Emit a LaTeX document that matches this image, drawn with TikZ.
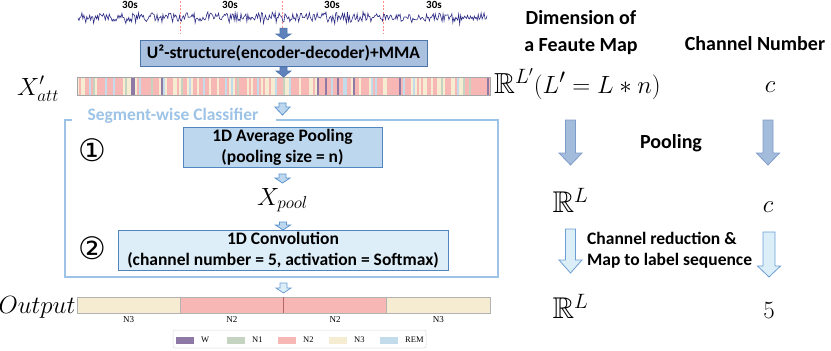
\documentclass[tikz,border=0pt]{standalone}
\usepackage{fontspec}
\usepackage{amssymb}
\usetikzlibrary{calc,positioning}
\newfontfamily\carlito{Carlito}
\newfontfamily\timesf{Liberation Serif}
\newfontfamily\dejavu{DejaVu Sans}
\definecolor{wave}{HTML}{2E2C85}
\definecolor{cW}{HTML}{8E78A6}
\definecolor{cN1}{HTML}{C4D4C1}
\definecolor{cN2}{HTML}{F7B7B4}
\definecolor{cN3}{HTML}{F6ECD2}
\definecolor{cREM}{HTML}{C3DCEC}
\definecolor{ufill}{HTML}{A9C0DF}
\definecolor{uline}{HTML}{4F74AC}
\definecolor{poolfill}{HTML}{BDD8EE}
\definecolor{convfill}{HTML}{DDEEF8}
\definecolor{boxline}{HTML}{5085C0}
\definecolor{frame}{HTML}{9DC3E6}
\definecolor{darkarr}{HTML}{5F82BC}
\definecolor{midarr}{HTML}{A4BCDC}
\definecolor{lightarr}{HTML}{DCEEF8}
\definecolor{arrline}{HTML}{5B93CF}
% stripe colour from a random integer
\newcommand{\stripecol}[1]{\ifcase#1 cW\or cREM\or cREM\or cN1\or cN3\or cN3\or cN3\or cN3\or cN3\or cN3\else cN2\fi}
% block arrow pointing down: start, tip, half shaft, half head, head length
\newcommand{\blockarrow}[6][]{%
  \draw[#1] let \p1=#2, \p2=#3 in
    (\x2-#4pt,\y1) -- (\x2+#4pt,\y1) -- (\x2+#4pt,\y2+#6pt) -- (\x2+#5pt,\y2+#6pt)
    -- (\x2,\y2) -- (\x2-#5pt,\y2+#6pt) -- (\x2-#4pt,\y2+#6pt) -- cycle;}

\begin{document}
\begin{tikzpicture}[x=1pt,y=-1pt,line join=miter,
  bold/.style={font=\carlito\bfseries\fontsize{17.5}{21}\selectfont},
  head/.style={font=\carlito\bfseries\fontsize{20}{27}\selectfont,align=center,inner sep=0pt},
  stepbox/.style={draw=boxline,line width=1pt,outer sep=0pt,inner sep=0pt,align=center,bold},
  mlbl/.style={inner sep=0pt,anchor=base},
  darr/.style={fill=darkarr,draw=uline,line width=0.6pt},
  larr/.style={fill=poolfill,draw=arrline,line width=0.8pt},
  barr/.style={fill=midarr,draw=darkarr!80,line width=0.8pt},
  warr/.style={fill=lightarr,draw=arrline!90,line width=0.8pt},
  seg/.style={draw=gray!60,line width=0.6pt,minimum width=103.25,minimum height=16,inner sep=0pt,outer sep=0pt},
  seglbl/.style={font=\timesf\fontsize{9}{10}\selectfont,inner sep=0pt},
  swatch/.style={minimum width=18,minimum height=7,inner sep=0pt,outer sep=0pt},
  leglbl/.style={font=\timesf\fontsize{8.5}{10}\selectfont,inner sep=0pt},
  secs/.style={font=\carlito\bfseries\fontsize{11}{12}\selectfont,inner sep=0pt}]
\useasboundingbox (0,0) rectangle (831,351);

% input signal
\node[minimum width=409,minimum height=22,inner sep=0pt] (sig) at (282.5,17) {};
\foreach \x in {180,282,383}
  \draw[red!45,dashed,line width=0.5pt,dash pattern=on 2pt off 1.5pt] (\x,1) -- (\x,33);
\pgfmathsetseed{11}
\draw[wave,line width=0.6pt] plot[domain=78:487,samples=420,variable=\t] (\t,{17.5+4.5*rand+6*rand*rand*rand});
\foreach \x/\n in {130/t1,230/t2,332/t3,434/t4}
  \node[secs] (\n) at (\x,5) {30s};

% encoder-decoder
\node[stepbox,fill=ufill,draw=uline,minimum width=287,minimum height=26] (ubox) at (283.5,53) {U²-structure(encoder-decoder)+MMA};
\blockarrow[darr]{(sig.south)}{($(ubox.north)+(0,-1)$)}{3.5}{7.5}{5}

% attention feature map
\begin{scope}
 \clip (77,77) rectangle (490,95);
 \foreach \i in {0,...,206}{
  \pgfmathrandominteger{\k}{0}{22}
  \edef\sc{\stripecol{\k}}
  \fill[fill=\sc] (77+2*\i,77) rectangle (79+2*\i,95);
 }
\end{scope}
\node[draw=gray!70,line width=0.6pt,minimum width=413,minimum height=18,inner sep=0pt,outer sep=0pt] (xatt) at (283.5,86) {};
\blockarrow[darr]{($(ubox.south)+(0,1)$)}{(xatt.north)}{3.5}{7.5}{6}
\node[mlbl,font=\fontsize{26}{28}\selectfont] (xattl) at (38,95) {$X'_{att}$};

% segment-wise classifier
\draw[frame,line width=1.6pt] (72,120) -| (65,277) -| (498,120) -- (276,120);
\node[bold,text=frame,inner sep=0pt] (segt) at (173,116) {Segment-wise Classifier};
\node[stepbox,fill=poolfill,minimum width=199,minimum height=40] (pool) at (282.5,147) {1D Average Pooling\\(pooling size = n)};
\blockarrow[larr]{($(xatt.south)+(0,8)$)}{($(pool.north)+(0,-12)$)}{3.5}{7.5}{8}
\node[mlbl,font=\fontsize{25}{27}\selectfont] (xpool) at (282.5,205) {$X_{pool}$};
\blockarrow[larr]{($(pool.south)+(0,7)$)}{($(xpool.base)+(0,-22)$)}{3.5}{7.5}{5}
\node[stepbox,fill=convfill,minimum width=330,minimum height=40] (conv) at (283,250) {1D Convolution\\(channel number = 5, activation = Softmax)};
\blockarrow[larr]{($(conv.north)+(0,-8)$)}{(conv.north)}{3.5}{7.5}{5}
\node[font=\dejavu\fontsize{31}{33}\selectfont,inner sep=0pt] (c1st) at (92,150) {①};
\node[font=\dejavu\fontsize{31}{33}\selectfont,inner sep=0pt] (c2nd) at (92,248) {②};

% output sequence
\node[seg,fill=cN3,anchor=west] (out1) at (77,305) {};
\node[seg,fill=cN2,right=0pt of out1] (out2) {};
\node[seg,fill=cN2,right=0pt of out2] (out3) {};
\node[seg,fill=cN3,right=0pt of out3] (out4) {};
\draw[gray!60,line width=0.6pt] (out1.north west) rectangle (out4.south east);
\draw[black!50!red!60,line width=0.6pt] (out2.north east) -- (out2.south east);
\foreach \s/\t in {1/N3,2/N2,3/N2,4/N3}
  \node[seglbl] (sl\s) at ($(out\s.south)+(0,7)$) {\t};
\node[mlbl,font=\fontsize{24}{26}\selectfont] (outl) at (37,313) {$Output$};
\blockarrow[warr]{($(conv.south)+(0,13)$)}{($(out2.north east)+(0,-4)$)}{3.5}{7.5}{5}

% legend
\node[draw=gray!30,line width=0.5pt,rounded corners=2pt,minimum width=253,minimum height=18,inner sep=0pt] (legend) at (299.5,339) {};
\foreach \c/\t [count=\i from 0] in {cW/W,cN1/N1,cN2/N2,cN3/N3,cREM/REM}{
  \node[swatch,fill=\c,anchor=west] (sw\i) at (176+51*\i,340) {};
  \node[leglbl,right=7pt of sw\i] (lg\i) {\t};
}

% dimensions and channels
\node[head] (dimh) at (581,33) {Dimension of\\a Feaute Map};
\node[head] (chh) at (755,44) {Channel Number};
\node[mlbl,anchor=base west,font=\fontsize{29}{31}\selectfont] (rLp) at (494,93) {$\mathbb{R}^{L'}(L'=L*n)$};
\node[mlbl,font=\fontsize{27}{29}\selectfont] (cA) at (770,92) {$c$};
\node[mlbl,font=\fontsize{30}{32}\selectfont] (rL1) at (570.5,212) {$\mathbb{R}^{L}$};
\node[mlbl,font=\fontsize{27}{29}\selectfont] (cB) at (768,212) {$c$};
\node[mlbl,font=\fontsize{30}{32}\selectfont] (rL2) at (570.5,318) {$\mathbb{R}^{L}$};
\node[mlbl,font=\fontsize{26}{28}\selectfont] (five) at (769,318) {$5$};
\blockarrow[barr]{($(rLp.base)+(0,27)$)}{($(rL1.base)+(0,-47)$)}{5}{11.5}{12}
\blockarrow[barr]{($(cA.base)+(0,28)$)}{($(cB.base)+(0,-47)$)}{5}{11.5}{12}
\node[head] (poolh) at (671,143) {Pooling};
\blockarrow[warr]{($(rL1.base)+(0,17)$)}{($(rL2.base)+(0,-45)$)}{5}{11.5}{13}
\blockarrow[warr]{($(cB.base)+(0,20)$)}{($(five.base)+(0,-41)$)}{6}{11.5}{11}
\node[bold,align=left,anchor=west,inner sep=0pt] (redt) at (587,250) {Channel reduction \&\\Map to label sequence};
\end{tikzpicture}
\end{document}
